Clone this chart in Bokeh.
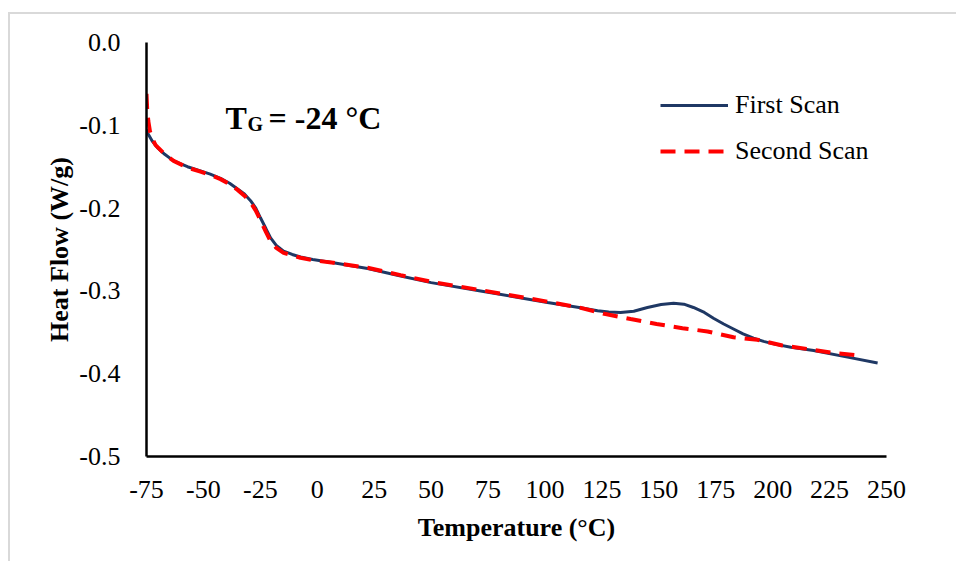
from bokeh.plotting import figure
from bokeh.models import Range1d, FixedTicker, PrintfTickFormatter, Legend, LegendItem, Label
from bokeh.embed import file_html
from bokeh.resources import INLINE

# ---- data ----
first_x = [-75.0, -74.6, -72.5, -70.2, -67.0, -63.1, -57.0, -51.3, -47.0, -42.5, -38.5, -35.0,
           -32.0, -29.3, -27.0, -24.9, -22.5, -20.5, -18.0, -14.8, -11.0, -7.4, -2.0,
           7.1, 22.1, 36.6, 50.0, 71.7, 101.1, 115.0, 123.1, 128.0, 133.2, 139.0, 145.0,
           151.0, 156.5, 161.0, 165.2, 170.0, 174.0, 178.5, 182.8, 187.0, 191.6, 196.0,
           200.4, 208.0, 218.0, 232.9, 246.1]
first_y = [-0.105, -0.109, -0.119, -0.127, -0.135, -0.143, -0.150, -0.155, -0.159, -0.164, -0.170, -0.177,
           -0.183, -0.191, -0.200, -0.212, -0.225, -0.236, -0.245, -0.252, -0.256, -0.259, -0.262,
           -0.266, -0.273, -0.282, -0.290, -0.300, -0.314, -0.320, -0.324, -0.3255, -0.326, -0.3245, -0.320,
           -0.3165, -0.315, -0.316, -0.320, -0.326, -0.333, -0.340, -0.346, -0.352, -0.357, -0.361,
           -0.364, -0.368, -0.372, -0.380, -0.387]

second_x = [-75.0, -74.7, -74.2, -73.5, -72.5, -71.0, -67.0, -63.1, -57.0, -51.3, -47.0, -42.5,
            -38.5, -35.0, -32.0, -29.3, -27.0, -24.9, -22.5, -20.5, -18.0, -14.8, -11.0, -7.4, -2.0,
            7.1, 22.1, 36.6, 50.0, 71.7, 101.1, 115.0, 126.6, 137.6, 149.0, 160.4, 171.4, 182.8,
            193.3, 204.3, 214.9, 226.7, 238.6]
second_y = [-0.062, -0.080, -0.095, -0.107, -0.116, -0.124, -0.135, -0.143, -0.151, -0.156, -0.160, -0.165,
            -0.171, -0.178, -0.185, -0.193, -0.203, -0.215, -0.229, -0.240, -0.248, -0.254, -0.257, -0.260, -0.263,
            -0.266, -0.272, -0.281, -0.289, -0.299, -0.313, -0.320, -0.328, -0.334, -0.340, -0.345, -0.349, -0.356,
            -0.359, -0.366, -0.370, -0.375, -0.378]

x_ticks = [-75, -50, -25, 0, 25, 50, 75, 100, 125, 150, 175, 200, 225, 250]
y_ticks = [-0.5, -0.4, -0.3, -0.2, -0.1, 0.0]

series_names = ["First Scan", "Second Scan"]
x_title = "Temperature (°C)"
y_title = "Heat Flow (W/g)"
annot_main = "T"
annot_sub = "G"
annot_rest = "= -24 °C"

FONT = "Liberation Serif"

p = figure(frame_width=740, frame_height=414,
           min_border_left=136, min_border_top=28, min_border_right=70, min_border_bottom=105,
           x_range=Range1d(-75, 250), y_range=Range1d(-0.5, 0.0),
           output_backend="svg", toolbar_location=None,
           margin=(12, 0, 0, 8))
p.styles = {"border-top": "2px solid #d9d9d9", "border-left": "2px solid #d9d9d9"}
p.outline_line_color = None
p.background_fill_color = "white"
p.border_fill_color = "white"
p.xgrid.visible = False
p.ygrid.visible = False

for ax in (p.xaxis[0], p.yaxis[0]):
    ax.axis_line_color = "black"
    ax.axis_line_width = 2.5
    ax.major_tick_line_color = None
    ax.minor_tick_line_color = None
    ax.major_label_text_font = FONT
    ax.major_label_text_font_size = "26px"
    ax.major_label_text_color = "black"
    ax.axis_label_text_font = FONT
    ax.axis_label_text_font_size = "26px"
    ax.axis_label_text_font_style = "bold"
    ax.axis_label_text_color = "black"

p.xaxis.ticker = FixedTicker(ticks=x_ticks)
p.yaxis.ticker = FixedTicker(ticks=y_ticks)
p.xaxis.formatter = PrintfTickFormatter(format="%d")
p.yaxis.formatter = PrintfTickFormatter(format="%.1f")
p.xaxis.axis_label = x_title
p.yaxis.axis_label = y_title
p.xaxis.major_label_standoff = 18
p.yaxis.major_label_standoff = 20
p.xaxis.axis_label_standoff = 12
p.yaxis.axis_label_standoff = 2

r1 = p.line(first_x, first_y, line_color="#1F3864", line_width=3)
r2 = p.line(second_x, second_y, line_color="#FF0000", line_width=4, line_dash="15 9")

legend = Legend(items=[LegendItem(label=series_names[0], renderers=[r1]),
                       LegendItem(label=series_names[1], renderers=[r2])],
                location=(514, 290))
legend.border_line_color = None
legend.background_fill_alpha = 0
legend.padding = 0
legend.margin = 0
legend.glyph_width = 68
legend.glyph_height = 28
legend.label_height = 28
legend.spacing = 16
legend.label_standoff = 7
legend.label_text_font = FONT
legend.label_text_font_size = "26px"
legend.label_text_color = "black"
p.add_layout(legend)

p.add_layout(Label(x=-40.3, y=-0.0907, text=annot_main, text_font=FONT, text_font_size="32px",
                   text_font_style="bold", text_baseline="alphabetic", text_color="black"))
p.add_layout(Label(x=-30.6, y=-0.0985, text=annot_sub, text_font=FONT, text_font_size="20px",
                   text_font_style="bold", text_baseline="alphabetic", text_color="black"))
p.add_layout(Label(x=-21.4, y=-0.0907, text=annot_rest, text_font=FONT, text_font_size="32px",
                   text_font_style="bold", text_baseline="alphabetic", text_color="black"))

open("out.html", "w").write(file_html(p, INLINE))
